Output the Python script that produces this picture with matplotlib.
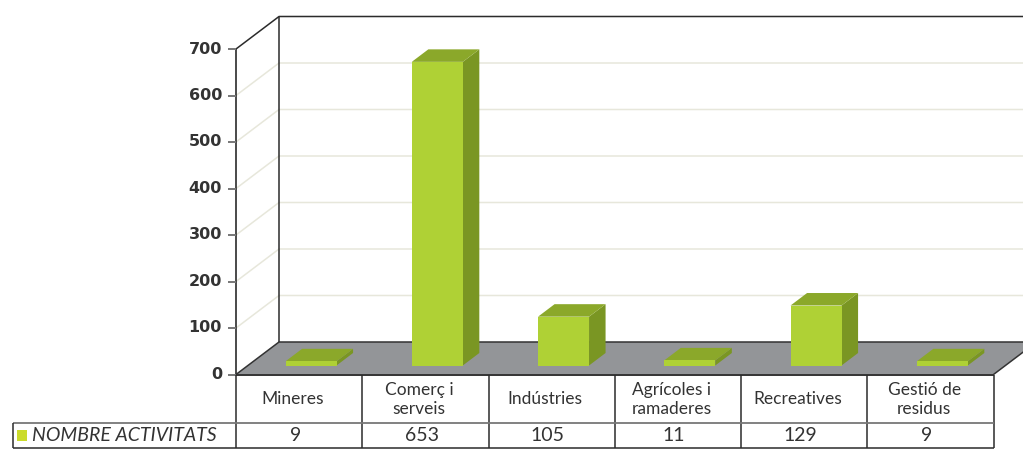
import matplotlib
matplotlib.use("Agg")
import matplotlib.pyplot as plt
from matplotlib.patches import Polygon

categories = ["Mineres", "Comerç i\nserveis", "Indústries", "Agrícoles i\nramaderes", "Recreatives", "Gestió de\nresidus"]
values = [9, 653, 105, 11, 129, 9]
yticks = [0, 100, 200, 300, 400, 500, 600, 700]
series_name = "NOMBRE ACTIVITATS"

W, H = 1023, 449
X0, X1, Y0, Y7 = 236, 993.5, 374.5, 49
DEPTH_X = 43 / ((X1 - X0) / 6)
DEPTH_Y = 32.5 / ((Y0 - Y7) / 700)
px_v = 700 / (Y0 - Y7)
px_x = 6 / (X1 - X0)

plt.rcParams["font.family"] = ["DejaVu Sans"]
fig = plt.figure(figsize=(W / 100, H / 100), dpi=100)
ax = fig.add_axes([X0 / W, 1 - Y0 / H, (X1 - X0) / W, (Y0 - Y7) / H])
ax.set_xlim(0, 6)
ax.set_ylim(0, 700)
ax.axis("off")

def P(x, v, d=0.0):
    return (x + d * DEPTH_X, v + d * DEPTH_Y)

def poly(pts, **kw):
    ax.add_patch(Polygon(pts, closed=True, clip_on=False, **kw))

def line(xs, ys, **kw):
    ax.plot(xs, ys, clip_on=False, solid_capstyle="butt", **kw)

XR = (W - X0) * px_x  # right edge of the figure in category units
DARK = "#2b2b2b"
GRID = "#e7e7db"

# floor
poly([P(0, 0), P(6, 0), P(6, 0, 1), P(0, 0, 1)], facecolor="#939598", edgecolor="none", zorder=1)
# gridlines
for t in yticks[1:-1]:
    a, b = P(0, t), P(0, t, 1)
    line([a[0], b[0], XR], [a[1], b[1], b[1]], color=GRID, lw=1.1, zorder=1)
# walls
a, b = P(0, 700), P(0, 700, 1)
line([a[0], b[0], XR], [a[1], b[1], b[1]], color=DARK, lw=1.1, zorder=2)
line([P(0, 0, 1)[0]] * 2, [P(0, 0, 1)[1], b[1]], color=DARK, lw=1.1, zorder=2)
line([0, 0], [0, 700], color=DARK, lw=1.2, zorder=2)
a, b = P(0, 0), P(0, 0, 1)
line([a[0], b[0], XR], [a[1], b[1], b[1]], color="#333333", lw=1.1, zorder=2)
line([6, P(6, 0, 1)[0]], [0, b[1]], color="#333333", lw=1.1, zorder=2)
line([0, 6], [0, 0], color="#333333", lw=1.4, zorder=2)

# ticks
for t in yticks:
    line([-8 * px_x, 0], [t, t], color="#777777", lw=1.4, zorder=2)
    ax.text(-14 * px_x, t, str(t), ha="right", va="center", fontsize=11.5, fontweight="bold",
            color="#333333", stretch="expanded")

# bars
BW = 51 * px_x
D0, D1 = 9 / 32.5, 21.5 / 32.5
for i, v in enumerate(values):
    l = i + 0.5 - BW / 2
    r = l + BW
    poly([P(r, 0, D0), P(r, 0, D1), P(r, v, D1), P(r, v, D0)], facecolor="#7a9623", edgecolor="none", zorder=3)
    poly([P(l, v, D0), P(r, v, D0), P(r, v, D1), P(l, v, D1)], facecolor="#8ba82a", edgecolor="none", zorder=3)
    poly([P(l, 0, D0), P(r, 0, D0), P(r, v, D0), P(l, v, D0)], facecolor="#afd135", edgecolor="none", zorder=4)

# table
ROW1 = -(423 - Y0) * px_v
ROW2 = -(448 - Y0) * px_v
LEFT = (13 - X0) * px_x
for k in range(7):
    line([k, k], [0, ROW2], color=DARK, lw=1.1, zorder=2)
line([LEFT, 6], [ROW1, ROW1], color="#777777", lw=1.3, zorder=2)
line([LEFT, 6], [ROW2, ROW2], color=DARK, lw=1.1, zorder=2)
line([LEFT, LEFT], [ROW1, ROW2], color=DARK, lw=1.1, zorder=2)
for i, (c, v) in enumerate(zip(categories, values)):
    ax.text(i + 0.45, ROW1 / 2 - 1, c, ha="center", va="center", fontsize=12.5, color="#333333",
            linespacing=1.25, fontfamily="Lato")
    ax.text(i + 0.47, (ROW1 + ROW2) / 2, str(v), ha="center", va="center", fontsize=14, color="#333333",
            fontfamily="Lato")

# series key
poly([((17 - X0) * px_x, -(429.5 - Y0) * px_v), ((27 - X0) * px_x, -(429.5 - Y0) * px_v),
      ((27 - X0) * px_x, -(441 - Y0) * px_v), ((17 - X0) * px_x, -(441 - Y0) * px_v)],
     facecolor="#cbdb2a", edgecolor="none", zorder=4)
ax.text((32 - X0) * px_x, (ROW1 + ROW2) / 2, series_name, ha="left", va="center", fontsize=14,
        style="italic", color="#333333", fontfamily="Lato")

fig.savefig("out.png", dpi=100)
